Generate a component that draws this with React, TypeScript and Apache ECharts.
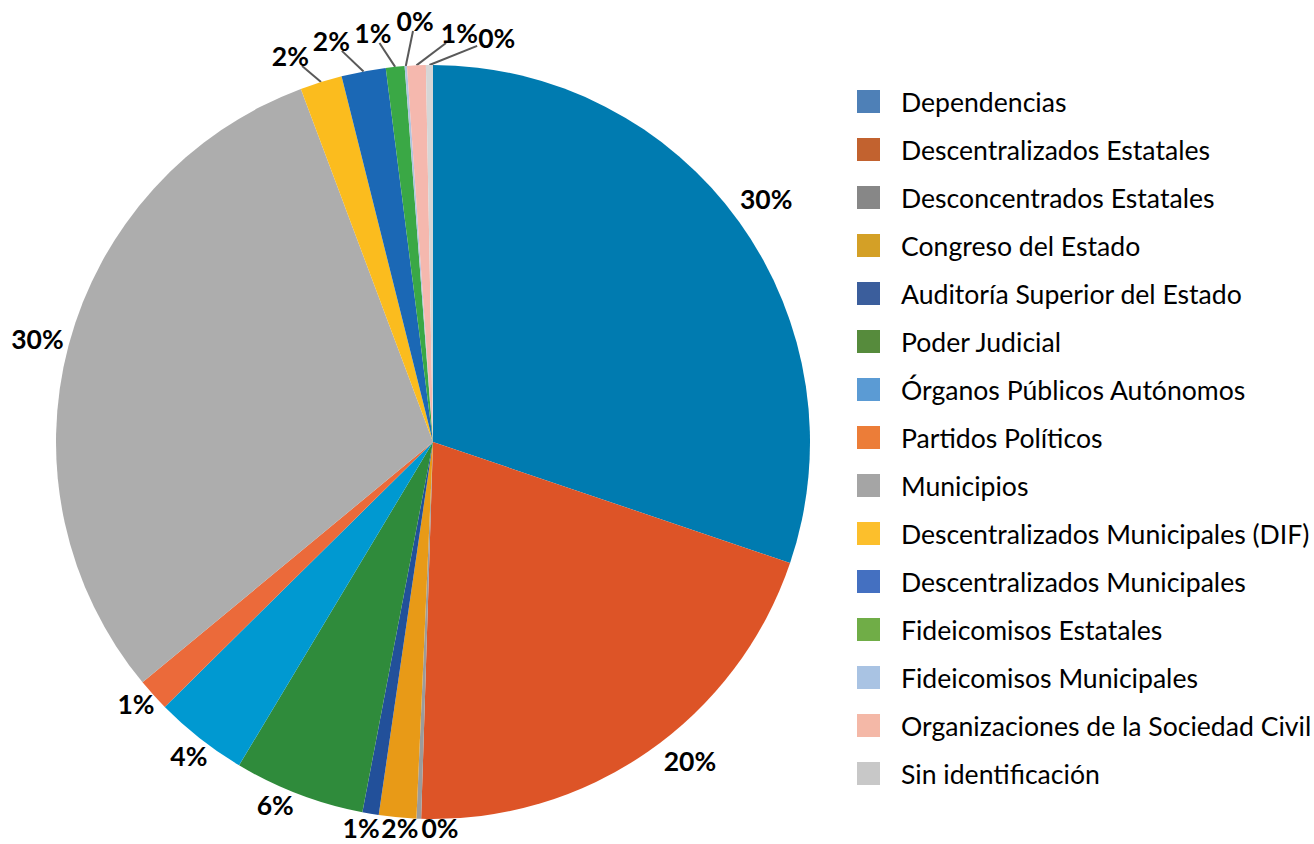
import React, { useEffect, useRef } from "react";
import * as echarts from "echarts";

const categories = [
  "Dependencias",
  "Descentralizados Estatales",
  "Desconcentrados Estatales",
  "Congreso del Estado",
  "Auditoría Superior del Estado",
  "Poder Judicial",
  "Órganos Públicos Autónomos",
  "Partidos Políticos",
  "Municipios",
  "Descentralizados Municipales (DIF)",
  "Descentralizados Municipales",
  "Fideicomisos Estatales",
  "Fideicomisos Municipales",
  "Organizaciones de la Sociedad Civil",
  "Sin identificación",
];

const values = [30.2, 20.3, 0.2, 1.6, 0.7, 5.6, 4.0, 1.4, 30.3, 1.8, 1.9, 0.8, 0.1, 0.8, 0.3];

const sliceColors = [
  "#007bb0", "#dd5427", "#9b9b9b", "#e89a17", "#22509a", "#2f8b3b", "#0099d1", "#eb6a3a",
  "#adadad", "#fbbc1e", "#1b68b5", "#3aa845", "#b0c4e0", "#f5b8ae", "#d6d6d6",
];

const legendColors = [
  "#4e80b7", "#c2622f", "#878787", "#d4a026", "#3b5e9c", "#568b3c", "#5b9bd4", "#ec7d38",
  "#a5a5a5", "#fcbf2c", "#4470c1", "#70ad47", "#a9c3e3", "#f4b8a7", "#c8c8c8",
];

// label placement (style): angular shift from the slice's mid-angle (deg), gap beyond the rim (px), leader line
const labelShift = [-0.5, -4.1, -3.2, -0.5, 1.0, 2.6, -0.3, 0.7, -0.3, -3.0, -3.6, -2.6, 1.7, 6.2, 9.5];
const labelGap = [35.5, 32.6, 9, 10.4, 15.7, 18.9, 20.7, 19, 31.8, 34.6, 36.8, 36.4, 44.4, 32.8, 32];
const leader = [false, false, false, false, false, false, false, false, false, true, true, true, true, true, true];

const CX = 433;
const CY = 442;
const R = 377;

export default function App() {
  const ref = useRef<HTMLDivElement>(null);
  useEffect(() => {
    if (!ref.current) return;
    const chart = echarts.init(ref.current, null, { renderer: "svg" });
    const total = values.reduce((a, b) => a + b, 0);
    const midDeg: number[] = [];
    let acc = 0;
    values.forEach((v) => {
      midDeg.push(((acc + v / 2) / total) * 360);
      acc += v;
    });
    const data = categories.map((name, i) => ({
      name,
      value: values[i],
      itemStyle: { color: sliceColors[i] },
      labelLine: leader[i]
        ? { show: true, length: 20, length2: 0, lineStyle: { color: "#595959", width: 2 } }
        : { show: false },
    }));
    chart.setOption({
      animation: false,
      backgroundColor: "#ffffff",
      legend: {
        orient: "vertical",
        left: 857,
        top: 88,
        padding: 0,
        itemWidth: 23,
        itemHeight: 23,
        itemGap: 21,
        icon: "rect",
        selectedMode: false,
        textStyle: {
          fontFamily: "Lato",
          fontSize: 26.6,
          lineHeight: 26,
          color: "#000000",
          padding: [0, 0, 0, 16],
        },
        data: categories.map((name, i) => ({ name, itemStyle: { color: legendColors[i] } })),
      },
      series: [
        {
          type: "pie",
          center: [CX, CY],
          radius: [0, R],
          startAngle: 90,
          clockwise: true,
          avoidLabelOverlap: false,
          data,
          label: {
            show: true,
            position: "outside",
            fontFamily: "Lato",
            fontWeight: "bold",
            fontSize: 26.5,
            color: "#000000",
            formatter: (p: any) => Math.round(p.percent) + "%",
          },
          labelLayout: (params: any) => {
            const i = params.dataIndex;
            const a = ((midDeg[i] + labelShift[i]) * Math.PI) / 180;
            const d = R + labelGap[i];
            const x = CX + Math.sin(a) * d;
            const y = CY - Math.cos(a) * d;
            const out: any = { x, y, align: "center", verticalAlign: "middle", hideOverlap: false };
            if (leader[i]) {
              const m = (midDeg[i] * Math.PI) / 180;
              const sx = CX + Math.sin(m) * R;
              const sy = CY - Math.cos(m) * R;
              const hw = params.labelRect.width / 2 + 1;
              const hh = 10;
              const vx = sx - x;
              const vy = sy - y;
              const t = Math.min(hw / Math.max(Math.abs(vx), 1e-6), hh / Math.max(Math.abs(vy), 1e-6));
              const ex = x + vx * t;
              const ey = y + vy * t;
              out.labelLinePoints = [
                [sx, sy],
                [ex, ey],
                [ex, ey],
              ];
            }
            return out;
          },
          emphasis: { disabled: true },
        },
      ],
    });
    return () => chart.dispose();
  }, []);
  return (
    <div
      ref={ref}
      style={{ position: "fixed", left: 0, top: 0, width: 1314, height: 844, background: "#fff" }}
    />
  );
}
